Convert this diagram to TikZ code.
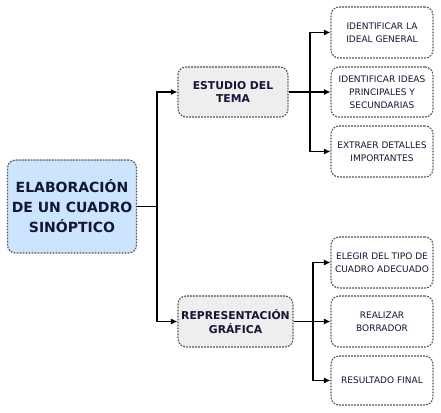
\documentclass[tikz,border=0pt]{standalone}
\usepackage{fontspec}
\setmainfont{DejaVu Sans}
\usetikzlibrary{arrows.meta}
\definecolor{txt}{HTML}{151535}
\definecolor{bord}{HTML}{555555}
\definecolor{mainfill}{HTML}{CCE5FF}
\definecolor{midfill}{HTML}{EEEEEE}
\tikzset{
  box/.style={draw=bord, line width=1.1pt, dash pattern=on 1.8pt off 1.2pt, rounded corners=8pt, align=center, text=txt, inner sep=0pt},
  mainbox/.style={box, fill=mainfill, minimum width=129pt, minimum height=93pt, font=\fontsize{14}{20}\selectfont\bfseries},
  midbox/.style={box, fill=midfill, minimum height=50pt, font=\fontsize{10.8}{13.5}\selectfont\bfseries},
  leafbox/.style={box, fill=white, minimum width=102pt, minimum height=50pt, font=\fontsize{9}{13}\selectfont},
  arr/.style={line width=1.1pt, -{Latex[length=6.5pt,width=6pt]}},
  ln/.style={line width=1.1pt}
}
\begin{document}
\begin{tikzpicture}[x=1pt,y=-1pt]
\useasboundingbox (0,0) rectangle (441,412);
\node[mainbox] (main) at (72,206.5) {ELABORACIÓN\\DE UN CUADRO\\SINÓPTICO};
\node[midbox, minimum width=110pt] (estudio) at (233,92) {ESTUDIO DEL\\TEMA};
\node[midbox, minimum width=115pt, minimum height=51pt] (repr) at (235.5,321.5) {REPRESENTACIÓN\\GRÁFICA};
\node[leafbox, minimum height=51pt] (t1) at (382,32.5) {IDENTIFICAR LA\\IDEAL GENERAL};
\node[leafbox] (t2) at (382,92) {IDENTIFICAR IDEAS\\PRINCIPALES Y\\SECUNDARIAS};
\node[leafbox, minimum height=51pt] (t3) at (382,151.5) {EXTRAER DETALLES\\IMPORTANTES};
\node[leafbox, minimum height=51pt] (b1) at (382,262.5) {ELEGIR DEL TIPO DE\\CUADRO ADECUADO};
\node[leafbox, minimum height=51pt] (b2) at (382,321.5) {REALIZAR\\BORRADOR};
\node[leafbox, minimum height=49pt] (b3) at (382,380.5) {RESULTADO FINAL};
\coordinate (j1) at (157,0);
\coordinate (j2) at (310,0);
\coordinate (j3) at (313,0);
\draw[ln] (main.east) -- (j1 |- main.east);
\draw[arr] (j1 |- main.east) |- (estudio.west);
\draw[arr] (j1 |- main.east) |- (repr.west);
\draw[arr] (estudio.east) -- (t2.west);
\draw[arr] (j2 |- estudio.east) |- (t1.west);
\draw[arr] (j2 |- estudio.east) |- (t3.west);
\draw[arr] (repr.east) -- (b2.west);
\draw[arr] (j3 |- repr.east) |- (b1.west);
\draw[arr] (j3 |- repr.east) |- (b3.west);
\end{tikzpicture}
\end{document}
